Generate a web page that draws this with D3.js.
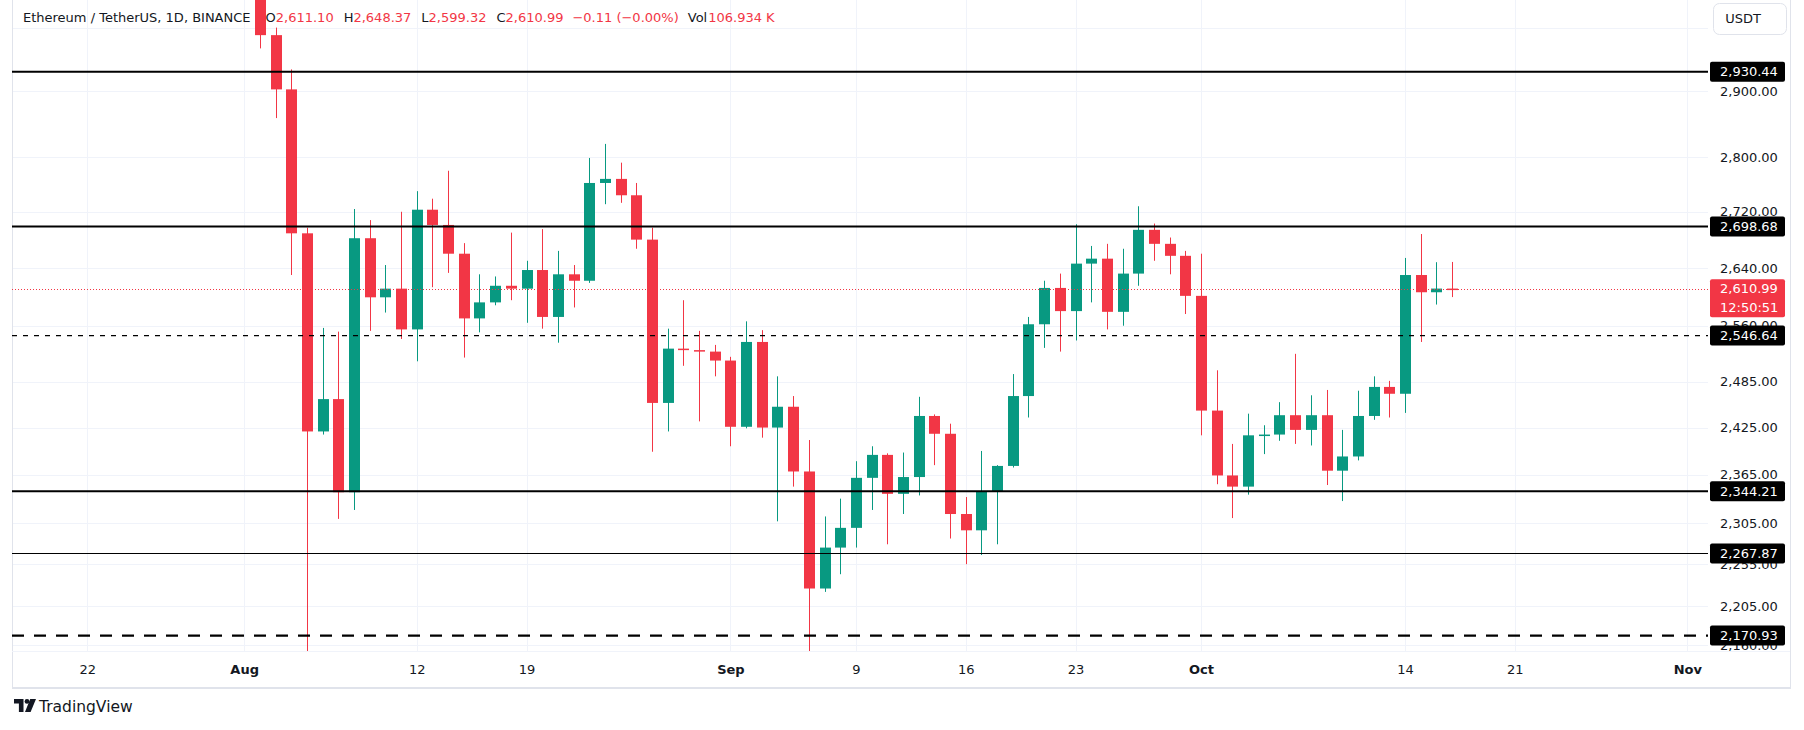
<!DOCTYPE html>
<html>
<head>
<meta charset="utf-8">
<title>Ethereum / TetherUS, 1D</title>
<script src="https://cdn.jsdelivr.net/npm/d3@7"></script>
<style>
  body { margin: 0; background: #ffffff; }
  svg { display: block; }
</style>
</head>
<body>
<div id="chart"></div>
<script>
// daily candles Aug 2 -> Oct 17 2024
const firstDay = "2024-08-02";
const opens = [3205, 2988, 2903, 2689, 2420, 2462, 2343, 2682, 2599, 2611,
  2555, 2723, 2701, 2660, 2570, 2592, 2615, 2611, 2637, 2572,
  2631, 2622, 2762, 2768, 2744, 2680, 2457, 2529, 2527, 2525,
  2513, 2426, 2538, 2425, 2452, 2369, 2226, 2275, 2299, 2361,
  2390, 2341, 2362, 2440, 2417, 2316, 2296, 2344, 2376, 2466,
  2562, 2612, 2580, 2646, 2653, 2579, 2632, 2694, 2674, 2657,
  2601, 2447, 2364, 2350, 2415, 2416, 2441, 2422, 2441, 2370,
  2388, 2440, 2478, 2469, 2630, 2606, 2611.10];
const highs = [3245, 3000, 2934, 2697, 2557, 2552, 2724, 2708, 2644, 2720,
  2750, 2739, 2780, 2675, 2631, 2628, 2690, 2650, 2695, 2664,
  2644, 2799, 2820, 2792, 2762, 2697, 2556, 2595, 2553, 2534,
  2518, 2566, 2554, 2492, 2466, 2409, 2313, 2335, 2382, 2401,
  2392, 2393, 2465, 2442, 2430, 2337, 2395, 2377, 2495, 2572,
  2622, 2632, 2702, 2671, 2674, 2667, 2728, 2703, 2683, 2664,
  2660, 2500, 2404, 2443, 2428, 2458, 2522, 2467, 2474, 2422,
  2473, 2492, 2486, 2654, 2688, 2648, 2648.37];
const lows = [2967, 2859, 2630, 2111, 2416, 2310, 2321, 2553, 2578, 2542,
  2512, 2613, 2633, 2517, 2551, 2588, 2595, 2564, 2556, 2537,
  2585, 2619, 2731, 2733, 2667, 2394, 2420, 2506, 2433, 2492,
  2401, 2424, 2412, 2307, 2350, 2150, 2222, 2243, 2275, 2321,
  2279, 2316, 2339, 2377, 2286, 2255, 2266, 2279, 2374, 2438,
  2530, 2525, 2540, 2592, 2555, 2560, 2615, 2650, 2631, 2576,
  2415, 2353, 2311, 2340, 2391, 2408, 2404, 2402, 2352, 2332,
  2383, 2435, 2438, 2444, 2538, 2589, 2599.32];
const closes = [2988, 2903, 2689, 2420, 2462, 2343, 2682, 2599, 2611, 2555,
  2723, 2701, 2660, 2570, 2592, 2615, 2611, 2637, 2572, 2631,
  2622, 2762, 2768, 2744, 2680, 2457, 2529, 2527, 2525, 2513,
  2426, 2538, 2425, 2452, 2369, 2226, 2275, 2299, 2361, 2390,
  2341, 2362, 2440, 2417, 2316, 2296, 2344, 2376, 2466, 2562,
  2612, 2580, 2646, 2653, 2579, 2632, 2694, 2674, 2657, 2601,
  2447, 2364, 2350, 2415, 2416, 2441, 2422, 2441, 2370, 2388,
  2440, 2478, 2469, 2630, 2606, 2611.10, 2610.99];

// support / resistance levels
const levels = [2930.44, 2698.68, 2546.64, 2344.21, 2267.87, 2170.93];
const levelWidths = [2, 2, 1.3, 2, 1.2, 2.3];
const levelDashes = ["none", "none", "5,6", "none", "none", "12,10"];

// 3000 only gets a grid line, its label sits under the USDT button
const gridTicks = [3000, 2900, 2800, 2720, 2640, 2560, 2485, 2425, 2365, 2305, 2255, 2205, 2160];
const priceTicks = [2900, 2800, 2720, 2640, 2560, 2485, 2425, 2365, 2305, 2255, 2205, 2160];
const timeTicks = ["2024-07-22", "2024-08-01", "2024-08-12", "2024-08-19", "2024-09-01", "2024-09-09",
  "2024-09-16", "2024-09-23", "2024-10-01", "2024-10-14", "2024-10-21", "2024-11-01"];

const volumeText = "106.934 K";
const countdown = "12:50:51";

const W = 1804, H = 730;
const paneLeft = 12, paneRight = 1708, paneBottom = 651;
const widgetRight = 1790, widgetBottom = 688;
const green = "#089981", red = "#f23645", ink = "#131722", gridColor = "#f0f3fa", borderColor = "#e0e3eb";
const font = "'DejaVu Sans', sans-serif";

const parseDay = d3.utcParse("%Y-%m-%d");
const price = d3.format(",.2f");
const dates = d3.utcDay.range(parseDay(firstDay), d3.utcDay.offset(parseDay(firstDay), closes.length));

const x = d3.scaleUtc()
  .domain([parseDay("2024-07-22"), parseDay("2024-11-01")])
  .range([87.3, 1687.3]);
// price axis is logarithmic
const y = d3.scaleLog()
  .domain([2930.44, 2170.93])
  .range([71.7, 635.6]);

const svg = d3.select("#chart")
  .append("svg")
  .attr("width", W)
  .attr("height", H)
  .style("font-family", font);

svg.append("rect").attr("width", W).attr("height", H).attr("fill", "#ffffff");

svg.append("clipPath").attr("id", "pane")
  .append("rect")
  .attr("x", paneLeft).attr("y", 0)
  .attr("width", paneRight - paneLeft).attr("height", paneBottom);

// grid
const grid = svg.append("g").attr("clip-path", "url(#pane)");
grid.selectAll("line.v").data(timeTicks.map(parseDay)).join("line")
  .attr("x1", d => Math.round(x(d)) + 0.5).attr("x2", d => Math.round(x(d)) + 0.5)
  .attr("y1", 0).attr("y2", paneBottom)
  .attr("stroke", gridColor);
grid.selectAll("line.h").data(gridTicks).join("line")
  .attr("x1", paneLeft).attr("x2", paneRight)
  .attr("y1", d => Math.round(y(d)) + 0.5).attr("y2", d => Math.round(y(d)) + 0.5)
  .attr("stroke", gridColor);

// widget frame
svg.append("line").attr("x1", paneLeft + 0.5).attr("x2", paneLeft + 0.5).attr("y1", 0).attr("y2", widgetBottom)
  .attr("stroke", borderColor);
svg.append("line").attr("x1", widgetRight + 0.5).attr("x2", widgetRight + 0.5).attr("y1", 0).attr("y2", widgetBottom)
  .attr("stroke", borderColor);
svg.append("line").attr("x1", paneLeft).attr("x2", widgetRight + 1).attr("y1", widgetBottom).attr("y2", widgetBottom)
  .attr("stroke", borderColor).attr("stroke-width", 2);
svg.append("line").attr("x1", paneLeft).attr("x2", widgetRight).attr("y1", paneBottom + 0.5).attr("y2", paneBottom + 0.5)
  .attr("stroke", gridColor);

// candles
const candles = dates.map((d, i) => ({date: d, o: opens[i], h: highs[i], l: lows[i], c: closes[i]}));
const candleColor = d => d.c >= d.o ? green : red;
const cg = svg.append("g").attr("clip-path", "url(#pane)");
cg.selectAll("line.wick").data(candles).join("line")
  .attr("x1", d => Math.round(x(d.date)) + 0.5)
  .attr("x2", d => Math.round(x(d.date)) + 0.5)
  .attr("y1", d => y(d.h))
  .attr("y2", d => y(d.l))
  .attr("stroke", candleColor)
  .attr("stroke-width", 1);
cg.selectAll("rect.body").data(candles).join("rect")
  .attr("x", d => Math.round(x(d.date)) - 5)
  .attr("width", 11)
  .attr("y", d => y(Math.max(d.o, d.c)))
  .attr("height", d => Math.max(1.5, Math.abs(y(d.o) - y(d.c))))
  .attr("fill", candleColor);

// level lines
levels.forEach((v, i) => {
  svg.append("line")
    .attr("x1", paneLeft).attr("x2", paneRight)
    .attr("y1", y(v)).attr("y2", y(v))
    .attr("stroke", "#000000")
    .attr("stroke-width", levelWidths[i])
    .attr("stroke-dasharray", levelDashes[i]);
});

// last price line
const last = closes.length - 1;
const lastPrice = closes[last];
svg.append("line")
  .attr("x1", paneLeft).attr("x2", paneRight)
  .attr("y1", Math.round(y(lastPrice)) + 0.5).attr("y2", Math.round(y(lastPrice)) + 0.5)
  .attr("stroke", red)
  .attr("stroke-width", 1)
  .attr("stroke-dasharray", "1,2");

// legend
const change = closes[last] - closes[last - 1];
const sign = change < 0 ? "\u2212" : "+";
const changeText = `${sign}${d3.format(".2f")(Math.abs(change))} (${sign}${d3.format(".2f")(Math.abs(change / closes[last - 1] * 100))}%)`;
const legend = svg.append("text")
  .attr("x", 23).attr("y", 17)
  .attr("dy", "0.35em")
  .attr("font-size", 13)
  .attr("fill", ink);
legend.append("tspan").text("Ethereum / TetherUS, 1D, BINANCE");
[["O", opens[last]], ["H", highs[last]], ["L", lows[last]], ["C", closes[last]]].forEach((p, i) => {
  legend.append("tspan").attr("dx", i === 0 ? 15 : 10).text(p[0]);
  legend.append("tspan").attr("fill", red).text(price(p[1]));
});
legend.append("tspan").attr("dx", 9).attr("fill", red).text(changeText);
legend.append("tspan").attr("dx", 9).text("Vol");
legend.append("tspan").attr("dx", 1).attr("fill", red).text(volumeText);

// price axis
const yAxis = d3.axisRight(y)
  .tickValues(priceTicks)
  .tickFormat(price)
  .tickSize(0)
  .tickPadding(12);
svg.append("g")
  .attr("transform", `translate(${paneRight},0)`)
  .call(yAxis)
  .call(g => g.select(".domain").remove())
  .attr("font-size", 13)
  .attr("font-family", font)
  .call(g => g.selectAll("text").attr("fill", ink));

// level labels
levels.forEach(v => {
  svg.append("rect")
    .attr("x", 1710).attr("y", y(v) - 10)
    .attr("width", 75).attr("height", 20)
    .attr("rx", 2)
    .attr("fill", "#000000");
  svg.append("text")
    .attr("x", 1720).attr("y", y(v))
    .attr("dy", "0.36em")
    .attr("font-size", 13)
    .attr("fill", "#ffffff")
    .text(price(v));
});

// last price label with countdown
svg.append("rect")
  .attr("x", 1710).attr("y", y(lastPrice) - 9.5)
  .attr("width", 75).attr("height", 38)
  .attr("rx", 2)
  .attr("fill", red);
svg.append("text")
  .attr("x", 1720).attr("y", y(lastPrice))
  .attr("dy", "0.36em")
  .attr("font-size", 13)
  .attr("fill", "#ffffff")
  .text(price(lastPrice));
svg.append("text")
  .attr("x", 1720).attr("y", y(lastPrice) + 18.5)
  .attr("dy", "0.36em")
  .attr("font-size", 13)
  .attr("fill", "#ffffff")
  .text(countdown);

// currency button
svg.append("rect")
  .attr("x", 1713.5).attr("y", 3.5)
  .attr("width", 73).attr("height", 31)
  .attr("rx", 6)
  .attr("fill", "#ffffff")
  .attr("stroke", borderColor);
svg.append("text")
  .attr("x", 1743).attr("y", 18.5)
  .attr("dy", "0.36em")
  .attr("text-anchor", "middle")
  .attr("font-size", 13)
  .attr("fill", ink)
  .text("USDT");

// time axis
const monthStart = d => d.getUTCDate() === 1;
const xAxis = d3.axisBottom(x)
  .tickValues(timeTicks.map(parseDay))
  .tickSize(0)
  .tickPadding(0)
  .tickFormat(d => monthStart(d) ? d3.utcFormat("%b")(d) : d3.utcFormat("%-d")(d));
svg.append("g")
  .attr("transform", "translate(0,669)")
  .call(xAxis)
  .call(g => g.select(".domain").remove())
  .attr("font-size", 13)
  .attr("font-family", font)
  .call(g => g.selectAll("text")
    .attr("dy", "0.36em")
    .attr("fill", ink)
    .attr("font-weight", d => monthStart(d) ? "bold" : "normal"));

// TradingView mark
const logo = svg.append("g").attr("fill", ink);
logo.append("path").attr("d", "M14 699 h9.5 v13 h-4.6 v-8.6 h-4.9 z");
logo.append("circle").attr("cx", 27).attr("cy", 701.4).attr("r", 2.4);
logo.append("path").attr("d", "M30.2 699 h5.8 l-5.4 13 h-5.6 z");
svg.append("text")
  .attr("x", 39).attr("y", 706)
  .attr("dy", "0.36em")
  .attr("font-size", 15.5)
  .attr("fill", ink)
  .text("TradingView");
</script>
</body>
</html>
